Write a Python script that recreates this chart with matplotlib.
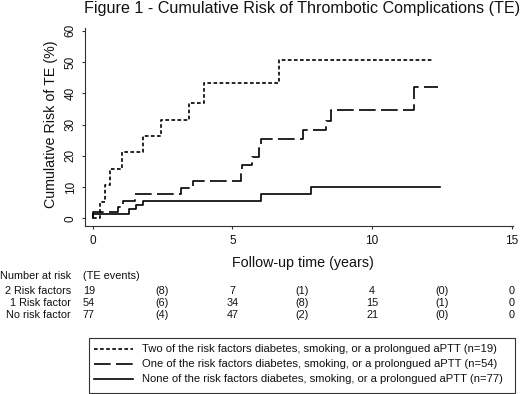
import matplotlib
matplotlib.use("Agg")
import matplotlib.pyplot as plt
from matplotlib.transforms import blended_transform_factory
from matplotlib.lines import Line2D
from matplotlib.patches import Rectangle

plt.rcParams['font.family'] = ['Liberation Sans', 'DejaVu Sans']

# ---------------- data ----------------
two_rf_t = [0, 0.25, 0.45, 0.64, 1.06, 1.82, 2.45, 3.44, 4.0, 6.68, 12.14]
two_rf_y = [0, 5.3, 10.5, 15.8, 21.1, 26.3, 31.6, 36.8, 43.2, 50.7, 50.7]

one_rf_t = [0, 0.02, 0.9, 1.08, 1.52, 3.15, 3.6, 5.30, 5.36, 5.69, 5.97, 6.03,
            7.52, 8.35, 8.53, 11.51, 12.34]
one_rf_y = [0, 1.9, 3.7, 5.6, 7.6, 9.6, 11.9, 14.5, 17.0, 19.7, 22.4, 25.2,
            28.2, 31.1, 34.6, 41.9, 41.9]

no_rf_t = [0, 0.02, 1.30, 1.54, 1.80, 6.03, 7.83, 12.42]
no_rf_y = [0, 1.3, 2.8, 4.2, 5.6, 7.8, 9.9, 9.9]

x_ticks = [0, 5, 10, 15]
y_ticks = [0, 10, 20, 30, 40, 50, 60]

risk_times = [0, 5, 10, 15]
event_times = [2.5, 7.5, 12.5]
group_labels = ["2 Risk factors", "1 Risk factor", "No risk factor"]
at_risk = [[19, 7, 4, 0], [54, 34, 15, 0], [77, 47, 21, 0]]
events = [[8, 1, 0], [6, 8, 1], [4, 2, 0]]

legend_labels = [
    "Two of the risk factors diabetes, smoking, or a prolongued aPTT (n=19)",
    "One of the risk factors diabetes, smoking, or a prolongued aPTT (n=54)",
    "None of the risk factors diabetes, smoking, or a prolongued aPTT (n=77)",
]

title = "Figure 1 - Cumulative Risk of Thrombotic Complications (TE)"
ylabel = "Cumulative Risk of TE (%)"
xlabel = "Follow-up time (years)"

# ---------------- layout helpers ----------------
W, H = 520, 394
def fx(px):
    return px / W
def fy(py):
    return 1 - py / H

LW = 1.2
styles = [(0, (2.2, 1.45)), (0, (10.0, 3.2)), "-"]
series = [(two_rf_t, two_rf_y), (one_rf_t, one_rf_y), (no_rf_t, no_rf_y)]
axcol = "#333333"
txtcol = "#111111"

fig = plt.figure(figsize=(5.2, 3.94), dpi=100)
ax = fig.add_axes([fx(85), fy(225.7), fx(513.3) - fx(85), fy(28) - fy(225.7)])
ax.set_xlim(-0.27, 15.05)
ax.set_ylim(-2.4, 60.9)

for (t, y), ls in zip(series, styles):
    ax.step(t, y, where="post", color="black", lw=LW, linestyle=ls)

for s in ["top", "right"]:
    ax.spines[s].set_visible(False)
for s in ["left", "bottom"]:
    ax.spines[s].set_color(axcol)
    ax.spines[s].set_linewidth(0.8)

ax.set_xticks(x_ticks)
ax.set_yticks(y_ticks)
ax.tick_params(direction="out", length=2.5, width=0.8, color=axcol,
               labelsize=8.5, labelcolor=txtcol)
ax.tick_params(axis="x", pad=4.5)
ax.tick_params(axis="y", pad=3.5)
for lbl in ax.get_yticklabels():
    lbl.set_rotation(90)
    lbl.set_va("center")
    lbl.set_ha("right")

ax.set_ylabel(ylabel, fontsize=10.3, color=txtcol)
ax.yaxis.label.set_va("center")
ax.yaxis.set_label_coords((50.5 - 85) / 428.3, 0.515)
ax.set_xlabel(xlabel, fontsize=10.3, color=txtcol)
ax.xaxis.label.set_va("center")
ax.xaxis.set_label_coords((303 - 85) / 428.3, (225.7 - 263) / 197.7)

fig.text(fx(302), fy(12.5), title, ha="center", va="baseline",
         fontsize=11.6, color=txtcol)

# ---------------- number-at-risk table ----------------
tr = blended_transform_factory(ax.transData, fig.transFigure)
fs_tab = 7.8
first_x = -0.35
row_y = [290.7, 302.7, 315.0]
fig.text(fx(70.7), fy(276), "Number at risk", ha="right", va="center",
         fontsize=fs_tab, color=txtcol)
ax.text(first_x, fy(276), "(TE events)", transform=tr, ha="left", va="center",
        fontsize=fs_tab, color=txtcol, clip_on=False)
for lab, ar, ev, yy in zip(group_labels, at_risk, events, row_y):
    fig.text(fx(70.7), fy(yy), lab, ha="right", va="center", fontsize=fs_tab,
             color=txtcol)
    for i, (tt, n) in enumerate(zip(risk_times, ar)):
        if i == 0:
            ax.text(first_x, fy(yy), str(n), transform=tr, ha="left",
                    va="center", fontsize=fs_tab, color=txtcol, clip_on=False)
        else:
            ax.text(tt, fy(yy), str(n), transform=tr, ha="center",
                    va="center", fontsize=fs_tab, color=txtcol, clip_on=False)
    for tt, e in zip(event_times, ev):
        ax.text(tt, fy(yy), f"({e})", transform=tr, ha="center", va="center",
                fontsize=fs_tab, color=txtcol, clip_on=False)

# ---------------- legend ----------------
box = Rectangle((fx(89.3), fy(392.7)), fx(515) - fx(89.3),
                fy(338.3) - fy(392.7), transform=fig.transFigure,
                fill=False, ec=axcol, lw=0.8)
fig.add_artist(box)
leg_y = [349.3, 364.0, 378.5]
for lab, ls, yy in zip(legend_labels, styles, leg_y):
    fig.add_artist(Line2D([fx(94), fx(133.3)], [fy(yy), fy(yy)],
                          transform=fig.transFigure, color="black", lw=LW,
                          linestyle=ls))
    fig.text(fx(141.7), fy(yy), lab, ha="left", va="center", fontsize=8.15,
             color=txtcol)

fig.savefig("out.png", dpi=100, facecolor="white")
